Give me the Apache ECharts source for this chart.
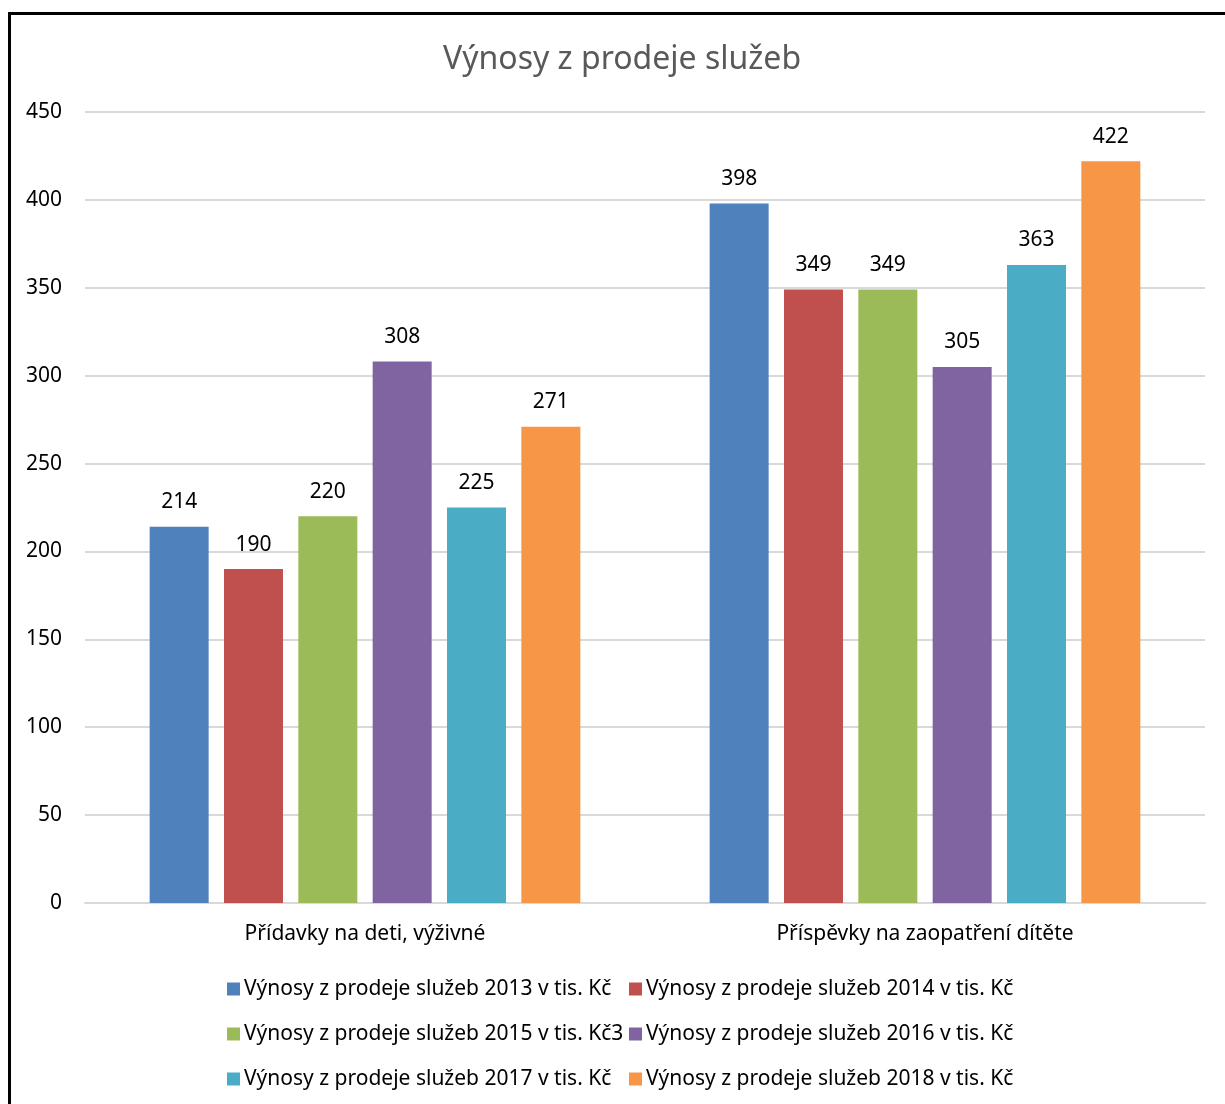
<!DOCTYPE html>
<html>
<head>
<meta charset="utf-8">
<script src="https://cdn.jsdelivr.net/npm/echarts@6/dist/echarts.min.js"></script>
<style>
html,body{margin:0;padding:0;background:#fff;}
#chart{width:1225px;height:1104px;}
</style>
</head>
<body>
<div id="chart"></div>
<script>
const categories = ['Přídavky na deti, výživné', 'Příspěvky na zaopatření dítěte'];
const seriesNames = [
  'Výnosy z prodeje služeb 2013 v tis. Kč',
  'Výnosy z prodeje služeb 2014 v tis. Kč',
  'Výnosy z prodeje služeb 2015 v tis. Kč3',
  'Výnosy z prodeje služeb 2016 v tis. Kč',
  'Výnosy z prodeje služeb 2017 v tis. Kč',
  'Výnosy z prodeje služeb 2018 v tis. Kč'
];
const v2013 = [214, 398];
const v2014 = [190, 349];
const v2015 = [220, 349];
const v2016 = [308, 305];
const v2017 = [225, 363];
const v2018 = [271, 422];
const colors = ['#4F81BD', '#C0504D', '#9BBB59', '#8064A2', '#4BACC6', '#F79646'];
const values = [v2013, v2014, v2015, v2016, v2017, v2018];

const FONT = '"Noto Sans", sans-serif';
const chart = echarts.init(document.getElementById('chart'), null, {renderer: 'canvas'});

const series = seriesNames.map((name, i) => ({
  name: name,
  type: 'bar',
  data: values[i],
  barWidth: 59,
  barGap: '26%',
  itemStyle: {color: colors[i]},
  label: {
    show: true,
    position: 'top',
    distance: 14,
    color: '#000',
    fontSize: 21,
    fontFamily: FONT
  }
}));

const legendCommon = {
  orient: 'vertical',
  itemWidth: 13,
  itemHeight: 13,
  itemGap: 21,
  icon: 'rect',
  textStyle: {fontSize: 21, fontFamily: FONT, color: '#000', lineHeight: 24, padding: [0, 0, 0, -1]},
  padding: 0
};

chart.setOption({
  animation: false,
  backgroundColor: '#fff',
  title: {
    text: 'Výnosy z prodeje služeb',
    left: 443,
    top: 44,
    padding: 0,
    textStyle: {fontSize: 32, fontWeight: 'normal', color: '#595959', fontFamily: FONT}
  },
  graphic: [{
    type: 'rect',
    shape: {x: 9.5, y: 13.5, width: 1400, height: 1300},
    style: {fill: 'none', stroke: '#000', lineWidth: 3},
    silent: true,
    z: 100
  }],
  legend: [
    Object.assign({}, legendCommon, {left: 227, top: 977, data: [seriesNames[0], seriesNames[2], seriesNames[4]]}),
    Object.assign({}, legendCommon, {left: 629, top: 977, data: [seriesNames[1], seriesNames[3], seriesNames[5]]})
  ],
  grid: {left: 85, right: 20, top: 112, bottom: 201, containLabel: false},
  xAxis: {
    type: 'category',
    data: categories,
    axisLine: {lineStyle: {color: '#D9D9D9', width: 2}},
    axisTick: {show: false},
    axisLabel: {fontSize: 21, fontFamily: FONT, color: '#000', margin: 21}
  },
  yAxis: {
    type: 'value',
    min: 0,
    max: 450,
    interval: 50,
    axisLine: {show: false},
    axisTick: {show: false},
    axisLabel: {fontSize: 21, fontFamily: FONT, color: '#000', margin: 23},
    splitLine: {lineStyle: {color: '#D9D9D9', width: 2}}
  },
  series: series
});
</script>
</body>
</html>
